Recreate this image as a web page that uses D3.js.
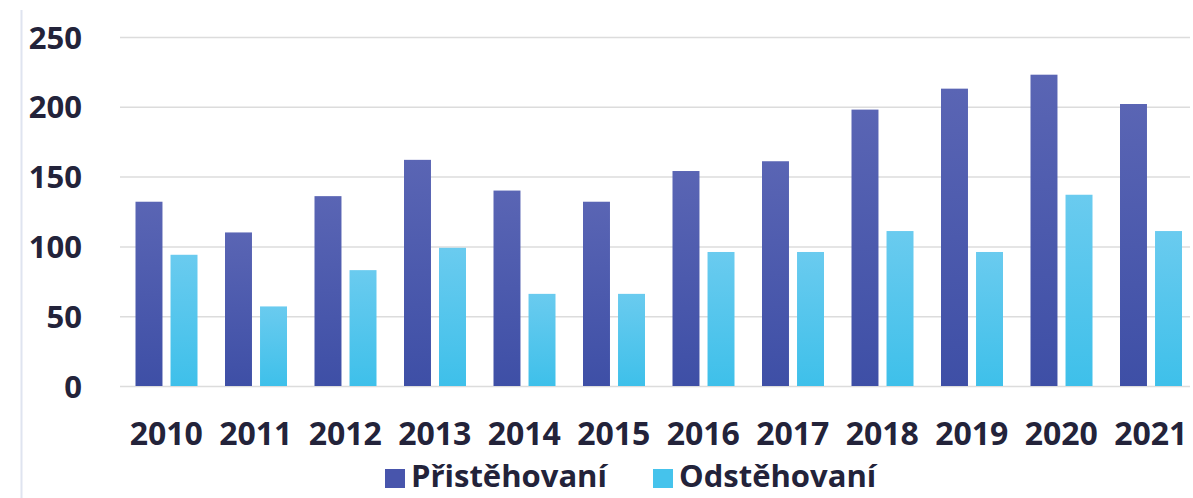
<!DOCTYPE html>
<html>
<head>
<meta charset="utf-8">
<script src="https://cdn.jsdelivr.net/npm/d3@7"></script>
<style>
  html, body { margin: 0; padding: 0; background: #ffffff; }
  svg { display: block; }
  text { font-family: "Open Sans", sans-serif; font-weight: 700; fill: #23233a; }
</style>
</head>
<body>
<svg id="chart"></svg>
<script>
const years = ['2010', '2011', '2012', '2013', '2014', '2015', '2016', '2017', '2018', '2019', '2020', '2021'];
const prisistehovani = [132, 110, 136, 162, 140, 132, 154, 161, 198, 213, 223, 202];
const odstehovani = [94, 57, 83, 99, 66, 66, 96, 96, 111, 96, 137, 111];
const seriesNames = ['Přistěhovaní', 'Odstěhovaní'];
const yTicks = [0, 50, 100, 150, 200, 250];

const width = 1193;
const height = 498;

const svg = d3.select('#chart')
  .attr('width', width)
  .attr('height', height);

// gradients for the bars
const defs = svg.append('defs');
const gradStops = [
  ['gradDark', '#5a65b4', '#3e4fa6'],
  ['gradLight', '#6acbef', '#3ec0ea']
];
gradStops.forEach(([id, top, bottom]) => {
  const g = defs.append('linearGradient')
    .attr('id', id)
    .attr('x1', 0).attr('y1', 0).attr('x2', 0).attr('y2', 1);
  g.append('stop').attr('offset', '0%').attr('stop-color', top);
  g.append('stop').attr('offset', '100%').attr('stop-color', bottom);
});
const colors = ['url(#gradDark)', 'url(#gradLight)'];
const legendColors = ['#4855ac', '#45c3ec'];

// faint frame line on the left
svg.append('line')
  .attr('x1', 21.5).attr('x2', 21.5)
  .attr('y1', 10).attr('y2', height)
  .attr('stroke', '#dfe4f0')
  .attr('stroke-width', 2);

const xScale = d3.scaleBand()
  .domain(years)
  .range([121.5, 1195.5])
  .padding(0);

const xInner = d3.scaleBand()
  .domain(seriesNames)
  .range([14, 76])
  .paddingInner(0.23);

const yScale = d3.scaleLinear()
  .domain([0, 250])
  .range([386, 37]);

// grid lines + y labels
const yAxis = svg.append('g')
  .attr('transform', 'translate(120,0)')
  .call(d3.axisLeft(yScale).tickValues(yTicks).tickSize(-1070).tickPadding(38));
yAxis.select('.domain').remove();
yAxis.selectAll('.tick line')
  .attr('stroke', '#dcdcdc')
  .attr('stroke-width', 1.5);
yAxis.selectAll('.tick text')
  .style('font-size', '31px')
  .attr('dy', '0.36em')
  .attr('fill', '#23233a');

// bars
const seriesData = [prisistehovani, odstehovani];
const groups = svg.append('g')
  .selectAll('g')
  .data(years)
  .enter()
  .append('g')
  .attr('transform', d => `translate(${xScale(d)},0)`);

groups.selectAll('rect')
  .data((d, i) => seriesNames.map((s, k) => ({ s, k, v: seriesData[k][i] })))
  .enter()
  .append('rect')
  .attr('x', d => xInner(d.s))
  .attr('y', d => yScale(d.v))
  .attr('width', xInner.bandwidth())
  .attr('height', d => yScale(0) - yScale(d.v))
  .attr('fill', d => colors[d.k]);

// x labels
const xAxis = svg.append('g')
  .attr('transform', 'translate(0,386)')
  .call(d3.axisBottom(xScale).tickSize(0).tickPadding(0));
xAxis.select('.domain').remove();
xAxis.selectAll('.tick text')
  .style('font-size', '32px')
  .attr('y', 59)
  .attr('dy', 0)
  .attr('fill', '#23233a');

// legend
const legendPos = [385, 653];
const legend = svg.append('g');
seriesNames.forEach((name, i) => {
  legend.append('rect')
    .attr('x', legendPos[i])
    .attr('y', 469)
    .attr('width', 20)
    .attr('height', 19)
    .attr('fill', legendColors[i]);
  legend.append('text')
    .attr('x', legendPos[i] + 26)
    .attr('y', 487)
    .style('font-size', '31px')
    .text(name);
});
</script>
</body>
</html>
